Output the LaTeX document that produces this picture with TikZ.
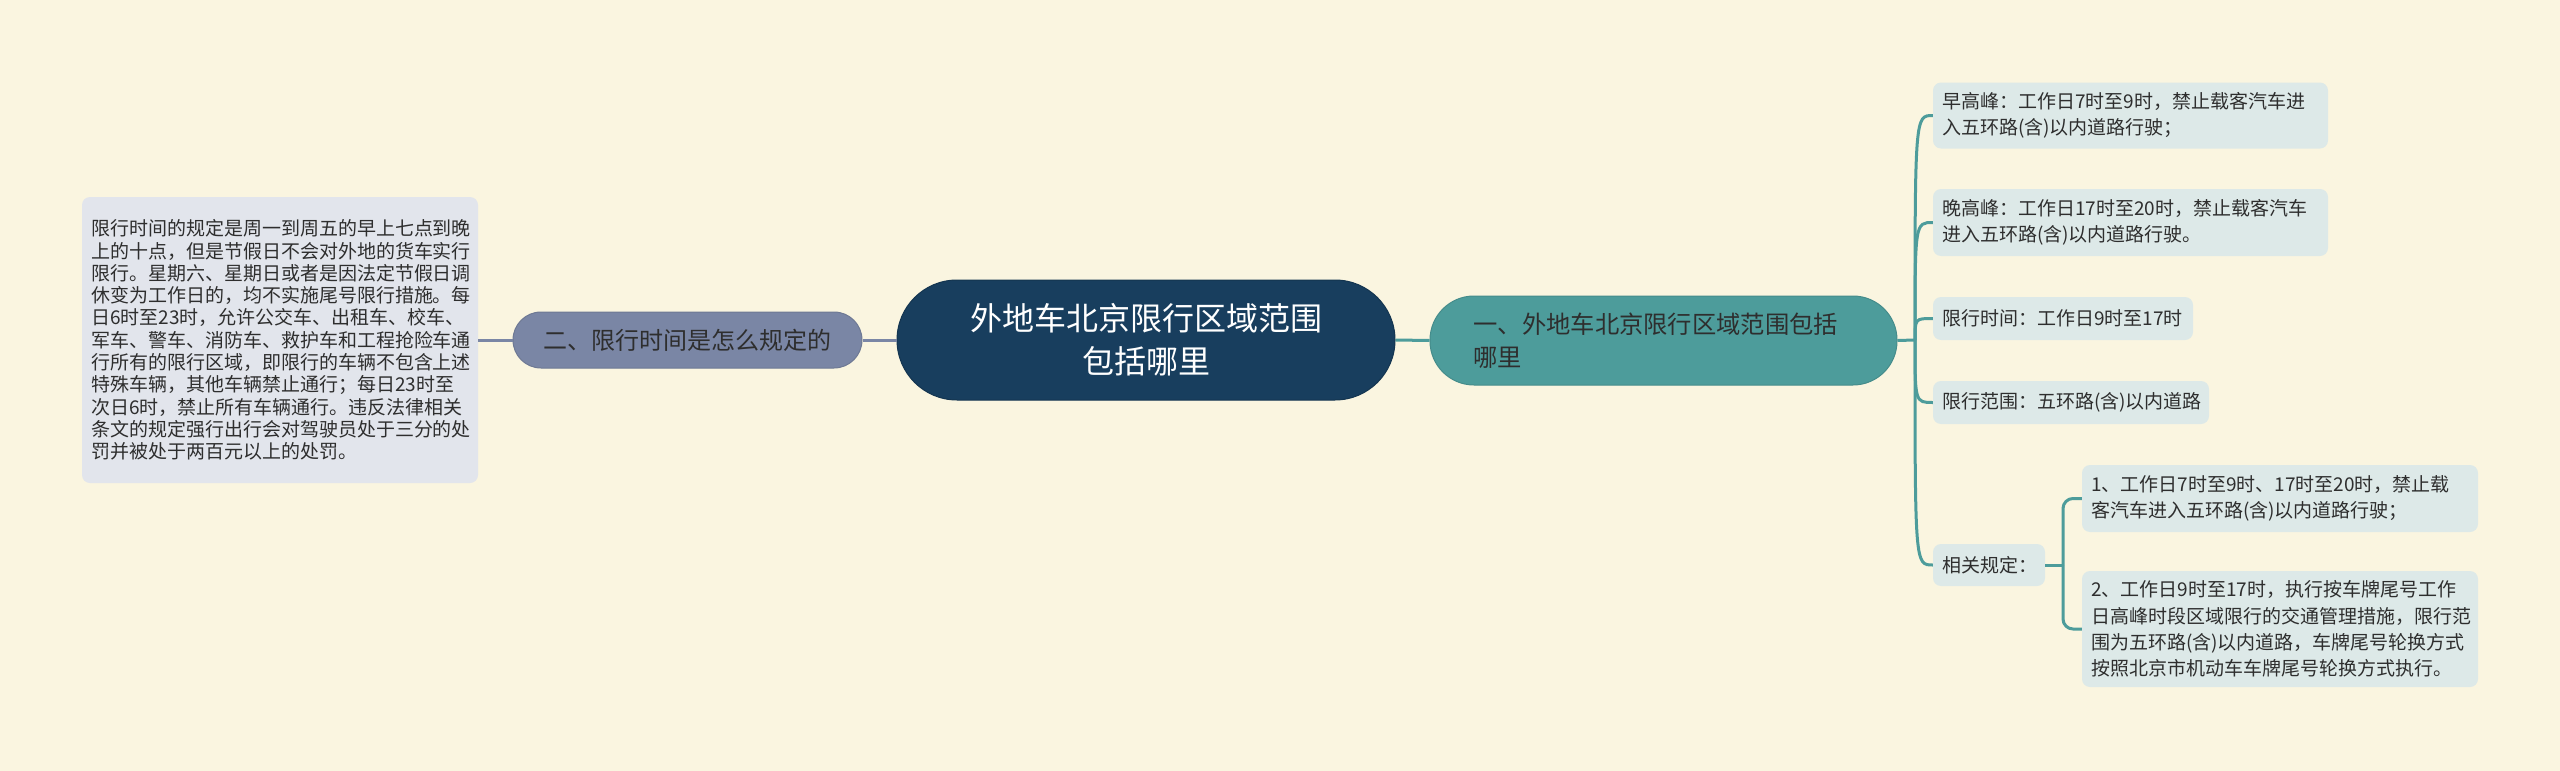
\documentclass[tikz,border=0pt]{standalone}
\usepackage{fontspec}
\newfontfamily\cjk{Noto Sans CJK SC}
\definecolor{bgcream}{HTML}{FAF5E0}
\definecolor{rootblue}{HTML}{183E5E}
\definecolor{slate}{HTML}{7A86A5}
\definecolor{teal}{HTML}{4D9C9B}
\definecolor{leafgrey}{HTML}{E2E5EC}
\definecolor{leafteal}{HTML}{DDE9E8}
\definecolor{inkdark}{HTML}{2E2E2E}
\tikzset{
  rootbox/.style={fill=rootblue, draw=rootblue!85!black, line width=1pt, rounded corners=60pt, align=center, text=white, font={\cjk\fontsize{32}{43}\selectfont}},
  leftbranch/.style={fill=slate, draw=slate!90!black, line width=1pt, rounded corners=28pt, align=center, text=inkdark, font={\cjk\fontsize{24}{33}\selectfont}},
  rightbranch/.style={fill=teal, draw=teal!90!black, line width=1pt, rounded corners=44pt, align=left, text=inkdark, font={\cjk\fontsize{24.3}{33}\selectfont}},
  leftleaf/.style={fill=leafgrey, rounded corners=8pt, inner xsep=9pt, align=left, text=inkdark, font={\cjk\fontsize{19}{22.3}\selectfont}},
  rightleaf/.style={fill=leafteal, rounded corners=8pt, inner xsep=9pt, inner ysep=0pt, align=left, text=inkdark, font={\cjk\fontsize{19}{26.4}\selectfont}},
  lline/.style={draw=slate, line width=3pt},
  rline/.style={draw=teal, line width=3pt}
}
\begin{document}
\begin{tikzpicture}[x=1pt,y=1pt,yscale=-1,xscale=1]
  % background and size of the picture
  \fill[bgcream] (0,0) rectangle (2560,771);
  \useasboundingbox (0,0) rectangle (2560,771);

  % Root Node
  \node[rootbox, minimum width=498pt, minimum height=120pt] (root) at (1146,340) {外地车北京限行区域范围\\包括哪里};

  % Branch Nodes
  \node[leftbranch, minimum width=349pt, minimum height=56pt] (lbr) at (687.5,340) {二、限行时间是怎么规定的};
  \node[rightbranch, minimum width=467pt, minimum height=89pt, text width=380pt] (rbr) at (1663.5,340.5) {一、外地车北京限行区域范围包括\\哪里};

  % Text Node (left)
  \node[leftleaf, minimum height=286pt, text width=378pt] (lleaf) at (280,340) {限行时间的规定是周一到周五的早上七点到晚\\上的十点，但是节假日不会对外地的货车实行\\限行。星期六、星期日或者是因法定节假日调\\休变为工作日的，均不实施尾号限行措施。每\\日6时至23时，允许公交车、出租车、校车、\\军车、警车、消防车、救护车和工程抢险车通\\行所有的限行区域，即限行的车辆不包含上述\\特殊车辆，其他车辆禁止通行；每日23时至\\次日6时，禁止所有车辆通行。违反法律相关\\条文的规定强行出行会对驾驶员处于三分的处\\罚并被处于两百元以上的处罚。};

  % Text Nodes (right)
  \node[rightleaf, minimum height=66pt, text width=377pt] (rmorning) at (2130.5,115.5) {早高峰：工作日7时至9时，禁止载客汽车进\\入五环路(含)以内道路行驶；};
  \node[rightleaf, minimum height=67pt, text width=377pt] (revening) at (2130.5,222.5) {晚高峰：工作日17时至20时，禁止载客汽车\\进入五环路(含)以内道路行驶。};
  \node[rightleaf, minimum height=43pt, text width=242pt] (rtime) at (2063,318.5) {限行时间：工作日9时至17时};
  \node[rightleaf, minimum height=43pt, text width=258pt] (rrange) at (2071,402.5) {限行范围：五环路(含)以内道路};
  \node[rightleaf, minimum height=42pt, text width=94pt] (rrules) at (1989,565) {相关规定：};
  \node[rightleaf, minimum height=67pt, text width=378pt] (rule1) at (2280,498.5) {1、工作日7时至9时、17时至20时，禁止载\\客汽车进入五环路(含)以内道路行驶；};
  \node[rightleaf, minimum height=116pt, text width=378pt] (rule2) at (2280,629) {2、工作日9时至17时，执行按车牌尾号工作\\日高峰时段区域限行的交通管理措施，限行范\\围为五环路(含)以内道路，车牌尾号轮换方式\\按照北京市机动车车牌尾号轮换方式执行。};

  % Connectors (left)
  \draw[lline] (root.west) -- (lbr.east);
  \draw[lline] (lbr.west) -- (lleaf.east);

  % Connectors (right)
  \coordinate (rjoin) at (1915,340);
  \coordinate (sjoin) at (2063,565);
  \draw[rline] (root.east) -- (rbr.west);
  \draw[rline] (rbr.east) -- (rjoin);
  \foreach \leaf in {rmorning,revening,rtime,rrange,rrules}
    \draw[rline] (rjoin) .. controls (rjoin |- \leaf.west) .. (\leaf.west);
  \draw[rline] (rrules.east) -- (sjoin);
  \draw[rline, rounded corners=10pt] (sjoin) |- (rule1.west);
  \draw[rline, rounded corners=10pt] (sjoin) |- (rule2.west);

\end{tikzpicture}
\end{document}
